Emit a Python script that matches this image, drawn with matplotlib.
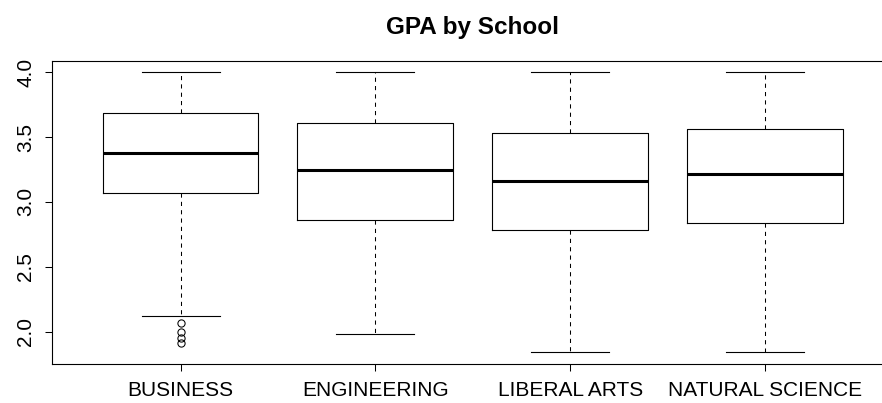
import numpy as np
import matplotlib.pyplot as plt

plt.rcParams['font.family'] = ['Liberation Sans', 'DejaVu Sans']

schools = ['BUSINESS', 'ENGINEERING', 'LIBERAL ARTS', 'NATURAL SCIENCE']
whisk_lo = [2.123, 1.985, 1.84, 1.84]
q1 = [3.065, 2.86, 2.78, 2.835]
med = [3.375, 3.245, 3.16, 3.215]
q3 = [3.687, 3.61, 3.533, 3.56]
whisk_hi = [4.0, 4.0, 4.0, 4.0]
fliers = [[2.065, 1.995, 1.949, 1.911], [], [], []]

stats = []
for i in range(len(schools)):
    stats.append({'whislo': whisk_lo[i], 'q1': q1[i], 'med': med[i],
                  'q3': q3[i], 'whishi': whisk_hi[i], 'fliers': fliers[i],
                  'label': schools[i]})

fig = plt.figure(figsize=(8.82, 4.03), dpi=100)
# plot region runs past the right edge, as in the original
ax = fig.add_axes([0.059, 0.098, 0.954, 0.751])

pos = np.arange(1, len(schools) + 1)
ax.bxp(stats, positions=pos, widths=0.8, showfliers=True,
       boxprops=dict(color='black', linewidth=0.8),
       medianprops=dict(color='black', linewidth=2.2, solid_capstyle='butt'),
       whiskerprops=dict(color='black', linewidth=0.75, linestyle=(0, (4, 4))),
       capprops=dict(color='black', linewidth=0.8),
       capwidths=0.4,
       flierprops=dict(marker='o', markerfacecolor='none', markeredgecolor='black',
                       markersize=5.2, markeredgewidth=0.75))

ax.set_xlim(0.34, 4.66)
ax.set_ylim(1.754, 4.087)
ax.set_yticks([2.0, 2.5, 3.0, 3.5, 4.0])
ax.set_yticklabels(['2.0', '2.5', '3.0', '3.5', '4.0'], rotation=90, va='center')
ax.set_xticks(pos)
ax.set_xticklabels(schools)
ax.tick_params(axis='both', labelsize=15, length=5, width=0.75)
ax.tick_params(axis='y', pad=7)
ax.tick_params(axis='x', pad=7.5)
for s in ax.spines.values():
    s.set_linewidth(0.8)

ax.set_title('GPA by School', fontsize=17.5, fontweight='bold', pad=19)

fig.savefig('out.png', dpi=100)
